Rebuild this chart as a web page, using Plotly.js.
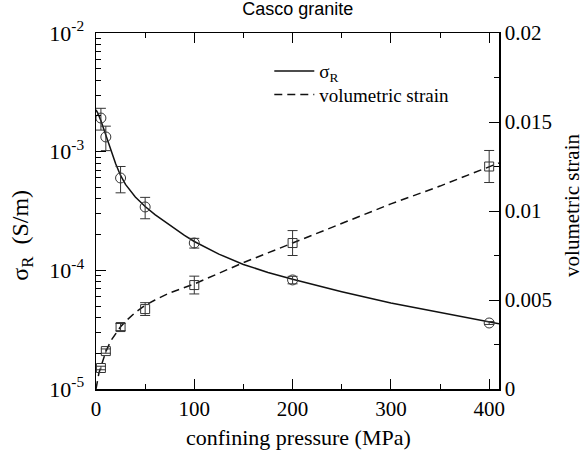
<!DOCTYPE html>
<html><head><meta charset="utf-8">
<script src="https://cdn.plot.ly/plotly-3.0.1.min.js"></script>
<style>body{margin:0;background:#fff}#chart{width:585px;height:450px}</style>
</head><body><div id="chart"></div>
<script>
// Measured data
const pressure = [5, 10, 25, 50, 100, 200, 400];
const sigmaR = [1.92e-3, 1.33e-3, 6.0e-4, 3.42e-4, 1.70e-4, 8.3e-5, 3.6e-5];
const sigmaErr = [0.40e-3, 0.31e-3, 1.5e-4, 0.7e-4, 0.16e-4, 0.6e-5, 0.1e-5];
const strain = [0.00118, 0.00213, 0.00348, 0.00449, 0.00584, 0.0082, 0.0125];
const strainErr = [0.0001, 0.00012, 0.0002, 0.00036, 0.0005, 0.0007, 0.0009];
// Fit curves
const fitP = [0, 2, 5, 10, 15, 20, 25, 30, 40, 50, 60, 75, 90, 100, 125, 150, 175, 200, 250, 300, 350, 400, 410];
const fitSigma = [2.25e-3, 2.1e-3, 1.82e-3, 1.36e-3, 1.02e-3, 7.9e-4, 6.3e-4, 5.3e-4, 4.15e-4, 3.45e-4, 2.95e-4, 2.4e-4, 1.97e-4, 1.75e-4, 1.37e-4, 1.12e-4, 9.6e-5, 8.4e-5, 6.6e-5, 5.3e-5, 4.4e-5, 3.7e-5, 3.55e-5];
const fitStrainP = [0, 1, 2, 3, 5, 7.5, 10, 15, 20, 25, 30, 40, 50, 60, 75, 100, 125, 150, 200, 250, 300, 350, 400, 410];
const fitStrain = [0, 0.0004, 0.0007, 0.0009, 0.00125, 0.0017, 0.0021, 0.0027, 0.0031, 0.0035, 0.0038, 0.0043, 0.0047, 0.0050, 0.0054, 0.0059, 0.0065, 0.0071, 0.0082, 0.0093, 0.0104, 0.0114, 0.0125, 0.0127];
const yTickVals = [1e-5, 1e-4, 1e-3, 1e-2];
const yTickText = ['10<sup>-5</sup>', '10<sup>-4</sup>', '10<sup>-3</sup>', '10<sup>-2</sup>'];

const serif = 'Liberation Serif, Times New Roman, serif';
const dark = '#111';
const mk = '#333';

const traces = [
  {x: fitP, y: fitSigma, mode: 'lines', name: 'σ<sub>R</sub>', legend: 'legend', line: {color: dark, width: 1.5}, yaxis: 'y'},
  {x: fitStrainP, y: fitStrain, mode: 'lines', name: 'volumetric strain', legend: 'legend2', line: {color: dark, width: 1.5, dash: '8px,5px'}, yaxis: 'y2'},
  {x: pressure, y: sigmaR, mode: 'markers', showlegend: false, yaxis: 'y',
   marker: {symbol: 'circle-open', size: 10, color: mk, line: {width: 1}},
   error_y: {type: 'data', array: sigmaErr, visible: true, color: mk, thickness: 1, width: 5}},
  {x: pressure, y: strain, mode: 'markers', showlegend: false, yaxis: 'y2',
   marker: {symbol: 'square-open', size: 9, color: mk, line: {width: 1}},
   error_y: {type: 'data', array: strainErr, visible: true, color: mk, thickness: 1, width: 5}}
];

const legFont = {family: serif, size: 19, color: '#000'};
const layout = {
  width: 585, height: 450,
  margin: {l: 96, r: 86, t: 33, b: 61},
  paper_bgcolor: '#fff', plot_bgcolor: '#fff',
  showlegend: true,
  title: {text: 'Casco granite', font: {family: 'Liberation Sans, Arial, sans-serif', size: 18, color: '#000'}, x: 0.509, xanchor: 'center', y: 0.98, yanchor: 'middle'},
  legend: {x: 0.43, y: 0.893, xanchor: 'left', yanchor: 'middle', bgcolor: 'rgba(0,0,0,0)', font: legFont, itemwidth: 40},
  legend2: {x: 0.43, y: 0.827, xanchor: 'left', yanchor: 'middle', bgcolor: 'rgba(0,0,0,0)', font: legFont, itemwidth: 40},
  xaxis: {
    range: [0, 410], showline: true, linecolor: '#000', linewidth: 1.5, mirror: 'ticks',
    ticks: 'inside', ticklen: 10, tickwidth: 1, tickcolor: '#000', dtick: 100, tick0: 0,
    minor: {dtick: 50, ticks: 'inside', ticklen: 5, tickcolor: '#000'},
    showgrid: false, zeroline: false,
    tickfont: {family: serif, size: 21, color: '#000'}
  },
  yaxis: {
    type: 'log', range: [-5, -2], showline: true, linecolor: '#000', linewidth: 1.5,
    ticks: 'inside', ticklen: 10, tickwidth: 1, tickcolor: '#000',
    tickvals: yTickVals, ticktext: yTickText, ticklabelstandoff: 6,
    minor: {ticks: 'inside', ticklen: 5, tickcolor: '#000', dtick: 'D1'},
    showgrid: false, zeroline: false,
    tickfont: {family: serif, size: 22, color: '#000'}
  },
  yaxis2: {
    overlaying: 'y', side: 'right', range: [0, 0.02], showline: true, linecolor: '#000', linewidth: 1.5,
    ticks: 'inside', ticklen: 10, tickwidth: 1, tickcolor: '#000', dtick: 0.005, tick0: 0,
    minor: {dtick: 0.0025, ticks: 'inside', ticklen: 5, tickcolor: '#000'},
    showgrid: false, zeroline: false,
    tickfont: {family: serif, size: 21, color: '#000'}
  },
  annotations: [
    {text: 'confining pressure (MPa)', xref: 'paper', yref: 'paper', x: 0.502, y: -0.135, xanchor: 'center', yanchor: 'middle', showarrow: false, font: {family: serif, size: 22, color: '#000'}},
    {text: 'σ<sub>R</sub>  (S/m)', xref: 'paper', yref: 'paper', x: -0.184, y: 0.433, xanchor: 'center', yanchor: 'middle', textangle: -90, showarrow: false, font: {family: serif, size: 24, color: '#000'}},
    {text: 'volumetric strain', xref: 'paper', yref: 'paper', x: 1.181, y: 0.517, xanchor: 'center', yanchor: 'middle', textangle: -90, showarrow: false, font: {family: serif, size: 21, color: '#000'}}
  ]
};
Plotly.newPlot('chart', traces, layout, {displayModeBar: false, staticPlot: true});
</script></body></html>
